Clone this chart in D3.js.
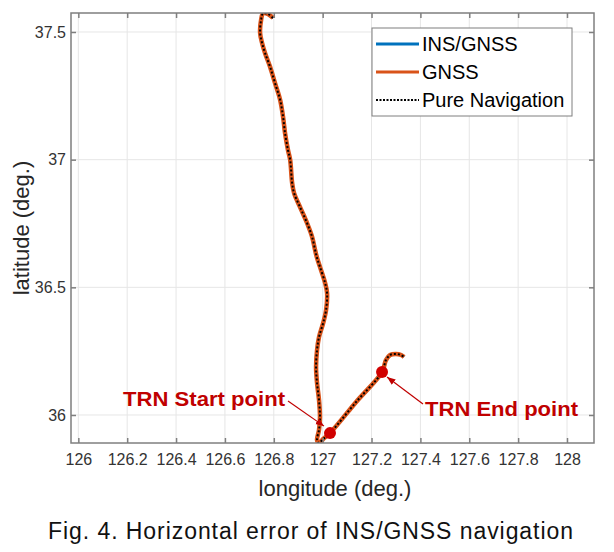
<!DOCTYPE html>
<html><head><meta charset="utf-8">
<script src="https://cdn.jsdelivr.net/npm/d3@7"></script>
<style>html,body{margin:0;padding:0;background:#fff;}svg{display:block;}</style>
</head><body>
<svg id="chart" width="614" height="552"></svg>
<script>
// Trajectory (longitude, latitude)
const lon = [126.797,126.777,126.756,126.748,126.744,126.752,126.764,126.785,126.805,126.826,126.838,126.846,126.858,126.867,126.875,126.883,126.907,126.936,126.957,126.969,126.977,126.989,127.010,127.018,127.014,127.002,126.985,126.977,126.973,126.977,126.985,126.989,126.985,126.977,126.985,127.002,127.030,127.137,127.243,127.259,127.276,127.300,127.321,127.333];
const lat = [37.555,37.570,37.573,37.547,37.496,37.457,37.418,37.363,37.300,37.234,37.167,37.104,37.038,36.999,36.909,36.869,36.815,36.752,36.697,36.646,36.615,36.580,36.517,36.478,36.411,36.360,36.305,36.254,36.188,36.125,36.059,35.992,35.941,35.902,35.890,35.906,35.929,36.051,36.168,36.215,36.235,36.239,36.235,36.227];
const seriesNames = ["INS/GNSS","GNSS","Pure Navigation"];
const xTicks = [126,126.2,126.4,126.6,126.8,127,127.2,127.4,127.6,127.8,128];
const yTicks = [36,36.5,37,37.5];
const trnStart = [127.030,35.929];
const trnEnd = [127.243,36.168];
const annotations = ["TRN Start point","TRN End point"];

const svg = d3.select("#chart");
const L = 71, R = 594, T = 13, B = 443;
const x = d3.scaleLinear().domain([125.970,128.1105]).range([L,R]);
const y = d3.scaleLinear().domain([35.8903,37.5744]).range([B,T]);
const font = "Arial, 'Liberation Sans', sans-serif";

// grid
const g = svg.append("g");
g.selectAll(".gx").data(xTicks).enter().append("line")
 .attr("x1",d=>x(d)).attr("x2",d=>x(d)).attr("y1",T).attr("y2",B)
 .attr("stroke","#e6e6e6").attr("stroke-width",1);
g.selectAll(".gy").data(yTicks).enter().append("line")
 .attr("y1",d=>y(d)).attr("y2",d=>y(d)).attr("x1",L).attr("x2",R)
 .attr("stroke","#e6e6e6").attr("stroke-width",1);

// clip
svg.append("clipPath").attr("id","clip").append("rect")
 .attr("x",L).attr("y",T).attr("width",R-L).attr("height",B-T);

const pts = lon.map((d,i)=>[d,lat[i]]);
const line = d3.line().x(d=>x(d[0])).y(d=>y(d[1])).curve(d3.curveCatmullRom.alpha(0.5));
const plot = svg.append("g").attr("clip-path","url(#clip)");
plot.append("path").attr("d",line(pts)).attr("fill","none").attr("stroke","#0072BD").attr("stroke-width",2);
plot.append("path").attr("d",line(pts)).attr("fill","none").attr("stroke","#D95319").attr("stroke-width",4.5).attr("stroke-linejoin","round");
plot.append("path").attr("d",line(pts)).attr("fill","none").attr("stroke","#000").attr("stroke-width",2).attr("stroke-dasharray","2,2");

// axes box
const axCol = "#7f7f7f";
svg.append("rect").attr("x",L).attr("y",T).attr("width",R-L).attr("height",B-T)
 .attr("fill","none").attr("stroke",axCol).attr("stroke-width",1.5);

// ticks (inward)
const xAxisB = d3.axisBottom(x).tickValues(xTicks).tickSizeInner(-5).tickSizeOuter(0).tickFormat(d3.format("~g"));
const gxb = svg.append("g").attr("transform",`translate(0,${B})`).call(xAxisB);
gxb.select(".domain").remove();
gxb.selectAll("line").attr("stroke",axCol).attr("stroke-width",1.5);
gxb.selectAll("text").attr("y",11).attr("font-family",font).attr("font-size",16).attr("fill","#333");
const xAxisT = d3.axisTop(x).tickValues(xTicks).tickSizeInner(-5).tickSizeOuter(0).tickFormat("");
const gxt = svg.append("g").attr("transform",`translate(0,${T})`).call(xAxisT);
gxt.select(".domain").remove();
gxt.selectAll("line").attr("stroke",axCol).attr("stroke-width",1.5);

const yAxisL = d3.axisLeft(y).tickValues(yTicks).tickSizeInner(-5).tickSizeOuter(0).tickFormat(d3.format("~g"));
const gyl = svg.append("g").attr("transform",`translate(${L},0)`).call(yAxisL);
gyl.select(".domain").remove();
gyl.selectAll("line").attr("stroke",axCol).attr("stroke-width",1.5);
gyl.selectAll("text").attr("x",-5).attr("font-family",font).attr("font-size",16).attr("fill","#333");
const yAxisR = d3.axisRight(y).tickValues(yTicks).tickSizeInner(-5).tickSizeOuter(0).tickFormat("");
const gyr = svg.append("g").attr("transform",`translate(${R},0)`).call(yAxisR);
gyr.select(".domain").remove();
gyr.selectAll("line").attr("stroke",axCol).attr("stroke-width",1.5);

// axis labels
svg.append("text").attr("x",335).attr("y",496).attr("text-anchor","middle")
 .attr("font-family",font).attr("font-size",22).attr("fill","#262626").text("longitude (deg.)");
svg.append("text").attr("transform",`translate(29,${(T+B)/2}) rotate(-90)`).attr("text-anchor","middle")
 .attr("font-family",font).attr("font-size",22).attr("fill","#262626").text("latitude (deg.)");

// markers and annotations
const red = "#C00000";
svg.append("defs").append("marker").attr("id","ah").attr("viewBox","0 0 10 10")
 .attr("refX",10).attr("refY",5).attr("markerWidth",7).attr("markerHeight",7).attr("orient","auto")
 .append("path").attr("d","M0,1 L10,5 L0,9 Z").attr("fill",red);
[trnStart,trnEnd].forEach(p=>{
  svg.append("circle").attr("cx",x(p[0])).attr("cy",y(p[1])).attr("r",6).attr("fill","#D00000");
});
svg.append("line").attr("x1",288).attr("y1",401).attr("x2",x(trnStart[0])-6).attr("y2",y(trnStart[1])-7)
 .attr("stroke",red).attr("stroke-width",1.2).attr("marker-end","url(#ah)");
svg.append("line").attr("x1",423).attr("y1",404).attr("x2",x(trnEnd[0])+5).attr("y2",y(trnEnd[1])+5)
 .attr("stroke",red).attr("stroke-width",1.2).attr("marker-end","url(#ah)");
svg.append("text").attr("x",123).attr("y",406).attr("font-family",font).attr("font-weight","bold")
 .attr("font-size",20).attr("fill",red).attr("textLength",162).attr("lengthAdjust","spacingAndGlyphs").text(annotations[0]);
svg.append("text").attr("x",425).attr("y",416).attr("font-family",font).attr("font-weight","bold")
 .attr("font-size",20).attr("fill",red).attr("textLength",153).attr("lengthAdjust","spacingAndGlyphs").text(annotations[1]);

// legend
const lg = svg.append("g");
lg.append("rect").attr("x",372).attr("y",28).attr("width",200).attr("height",88)
 .attr("fill","#fff").attr("stroke",axCol).attr("stroke-width",1);
const lstyles = [{c:"#0072BD",w:3,d:null},{c:"#D95319",w:3,d:null},{c:"#000",w:2,d:"2,1.5"}];
seriesNames.forEach((s,i)=>{
  const yy = 44 + i*28;
  lg.append("line").attr("x1",376).attr("x2",419).attr("y1",yy).attr("y2",yy)
   .attr("stroke",lstyles[i].c).attr("stroke-width",lstyles[i].w).attr("stroke-dasharray",lstyles[i].d);
  lg.append("text").attr("x",422).attr("y",yy+7).attr("font-family",font).attr("font-size",20)
   .attr("fill","#000").text(s);
});

// caption
svg.append("text").attr("x",48).attr("y",539).attr("font-family",font).attr("font-size",23)
 .attr("fill","#111").attr("textLength",525).attr("lengthAdjust","spacing")
 .text("Fig. 4. Horizontal error of INS/GNSS navigation");
</script>
</body></html>
